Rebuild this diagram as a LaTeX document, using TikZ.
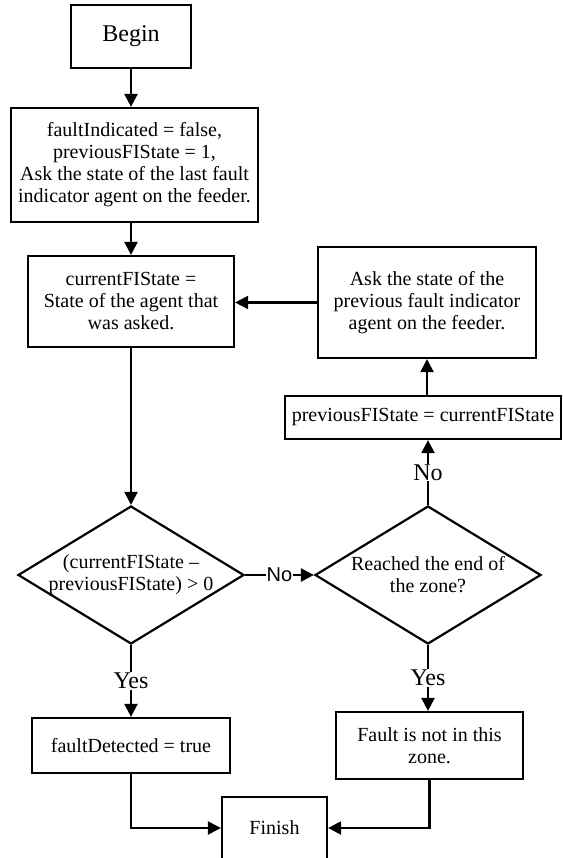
\documentclass[tikz,border=0pt]{standalone}
\usepackage{fontspec}
\setmainfont{Liberation Serif}
\newfontfamily\arialfont{Liberation Sans}
\usetikzlibrary{positioning,arrows.meta,shapes.geometric}

\begin{document}
\begin{tikzpicture}[x=1pt, y=-1pt,
  box/.style={draw, line width=2.2pt, align=center, font=\fontsize{20}{22}\selectfont, inner sep=0pt, fill=white},
  dec/.style={draw, diamond, line width=2.2pt, minimum width=226pt, minimum height=138pt, inner sep=0pt},
  txt/.style={align=center, font=\fontsize{20}{22}\selectfont},
  lbl/.style={fill=white, inner sep=1pt, font=\fontsize{24}{26}\selectfont},
  arr/.style={-{Triangle[length=13pt,width=13pt]}, line width=2.2pt}]
\path[fill=white, use as bounding box] (0,0) rectangle (562,858);
\clip (0,0) rectangle (562,858);
% boxes
\node[box, minimum width=120pt, minimum height=63pt, font=\fontsize{24}{26}\selectfont] (begin) at (131,36.5) {Begin};
\node[box, minimum width=247pt, minimum height=114pt] (init) at (134.5,165) {faultIndicated = false,\\ previousFIState = 1,\\ Ask the state of the last fault\\ indicator agent on the feeder.};
\node[box, minimum width=206pt, minimum height=91pt] (cur) at (131,301.5) {currentFIState =\\ State of the agent that\\ was asked.};
\node[box, minimum width=218pt, minimum height=111pt] (ask) at (427,302.5) {Ask the state of the\\ previous fault indicator\\ agent on the feeder.};
\node[box, minimum width=276pt, minimum height=43pt] (upd) at (423,417.5) {previousFIState = currentFIState};
\node[dec] (zero) at (131,575) {};
\node[txt] (zerotxt) at (zero) {(currentFIState --\\ previousFIState) > 0};
\node[dec] (zone) at (428,575) {};
\node[txt] (zonetxt) at (zone) {Reached the end of\\ the zone?};
\node[box, minimum width=198pt, minimum height=55pt] (found) at (131,745.5) {faultDetected = true};
\node[box, minimum width=187pt, minimum height=67pt] (notin) at (429.5,745.5) {Fault is not in this\\ zone.};
\node[box, minimum width=105pt, minimum height=62pt] (finish) at (274.5,828) {Finish};
% connectors
\draw[arr] (begin.south) -- (begin.south |- init.north);
\draw[arr] (cur.north |- init.south) -- (cur.north);
\draw[arr] (cur.south) -- (zero.north);
\draw[arr] (ask.west) -- (ask.west -| cur.east);
\draw[arr] (ask.south |- upd.north) -- (ask.south);
\draw[arr] (zone.north) -- (zone.north |- upd.south) node[lbl, midway] {No};
\draw[arr] (zero.east) -- (zone.west) node[midway, fill=white, inner sep=0.5pt, font=\arialfont\fontsize{20}{22}\selectfont] {No};
\draw[arr] (zero.south) -- (found.north) node[lbl, midway] {Yes};
\draw[arr] (zone.south) -- (zone.south |- notin.north) node[lbl, midway] {Yes};
\draw[arr] (found.south) |- (finish.west);
\draw[arr] (notin.south) |- (finish.east);
\end{tikzpicture}
\end{document}
